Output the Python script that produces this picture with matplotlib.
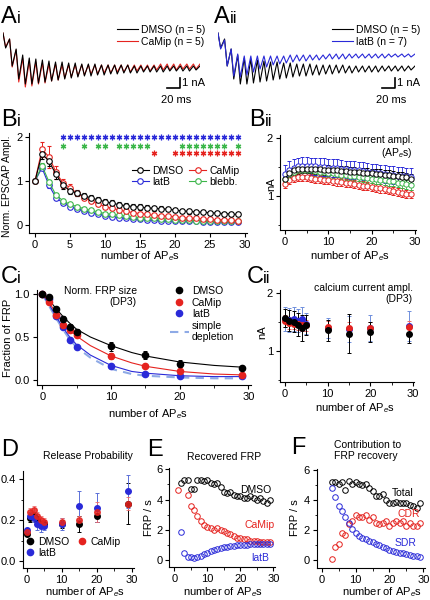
import matplotlib as mpl
import matplotlib.pyplot as plt
from matplotlib.lines import Line2D
import numpy as np

mpl.rcParams.update({
    "font.family": "sans-serif",
    "font.sans-serif": ["Liberation Sans", "DejaVu Sans"],
    "font.size": 8,
    "mathtext.fontset": "custom",
    "mathtext.rm": "Liberation Sans",
    "mathtext.it": "Liberation Sans:italic",
    "axes.linewidth": 0.8,
    "xtick.major.size": 3, "ytick.major.size": 3,
    "xtick.minor.size": 1.8, "ytick.minor.size": 1.8,
    "xtick.major.width": 0.8, "ytick.major.width": 0.8,
    "xtick.major.pad": 2, "ytick.major.pad": 2,
    "xtick.labelsize": 8, "ytick.labelsize": 8,
})

W, H = 430, 600
RED = "#e5231f"
BLUE = "#2a2ad8"
GREEN = "#3cb64a"
LBLUE = "#8eaae6"
PINK = "#ee6a6a"

# ---- A: EPSC trains (per-pulse levels in nA) -------------------------------
PULSE_MS = 10
DMSO_TOP = [0, -0.6, -1.6, -2.2, -2.5, -2.6, -2.7, -2.8, -2.9, -2.9, -3.0, -3.0, -3.1, -3.1, -3.1,
            -3.2, -3.2, -3.2, -3.2, -3.2, -3.3, -3.3, -3.3, -3.3, -3.3, -3.3, -3.3, -3.3, -3.3, -3.3]
DMSO_PEAK = [-1.5, -3.3, -4.6, -5.1, -5.1, -5.0, -4.9, -4.8, -4.7, -4.6, -4.5, -4.4, -4.3, -4.3, -4.2,
             -4.2, -4.1, -4.1, -4.0, -4.0, -4.0, -3.9, -3.9, -3.9, -3.9, -3.8, -3.8, -3.8, -3.8, -3.7]
CAMIP_TOP = [0, -0.6, -1.7, -2.5, -2.8, -2.9, -3.0, -3.1, -3.1, -3.2, -3.2, -3.2, -3.2, -3.2, -3.2,
             -3.2, -3.2, -3.2, -3.2, -3.2, -3.2, -3.2, -3.2, -3.2, -3.1, -3.1, -3.1, -3.1, -3.1, -3.1]
CAMIP_PEAK = [-1.4, -3.4, -4.9, -5.4, -5.3, -5.1, -5.0, -4.8, -4.7, -4.5, -4.4, -4.3, -4.2, -4.1, -4.1,
              -4.0, -4.0, -3.9, -3.9, -3.9, -3.8, -3.8, -3.8, -3.7, -3.7, -3.7, -3.7, -3.6, -3.6, -3.6]
LATB_TOP = [0, -0.7, -1.6, -2.1, -2.3, -2.3, -2.3, -2.3, -2.3, -2.3, -2.3, -2.2, -2.2, -2.2, -2.2,
            -2.2, -2.2, -2.1, -2.1, -2.1, -2.1, -2.1, -2.1, -2.1, -2.1, -2.1, -2.1, -2.1, -2.1, -2.1]
LATB_PEAK = [-1.6, -3.3, -4.3, -4.4, -4.2, -3.9, -3.6, -3.4, -3.2, -3.1, -3.0, -2.9, -2.8, -2.8, -2.7,
             -2.7, -2.6, -2.6, -2.6, -2.6, -2.5, -2.5, -2.5, -2.5, -2.5, -2.5, -2.4, -2.4, -2.4, -2.4]

# ---- Bi: normalized EPSC amplitudes ----------------------------------------
B_X = np.arange(30)
BI_DMSO = [1.0, 1.62, 1.45, 1.15, 0.9, 0.78, 0.72, 0.66, 0.62, 0.57, 0.53, 0.5, 0.46, 0.44, 0.42,
           0.41, 0.39, 0.38, 0.37, 0.36, 0.34, 0.32, 0.31, 0.3, 0.29, 0.28, 0.27, 0.26, 0.25, 0.24]
BI_DMSO_ERR = [0, 0.12, 0.1, 0.1, 0.08, 0.07, 0.07, 0.06, 0.06, 0.06, 0.06, 0.06, 0.06, 0.06, 0.06,
               0.06, 0.06, 0.06, 0.06, 0.05, 0.05, 0.05, 0.05, 0.05, 0.04, 0.04, 0.04, 0.04, 0.04, 0.04]
BI_CAMIP = [1.0, 1.72, 1.55, 1.2, 0.95, 0.85, 0.72, 0.62, 0.55, 0.48, 0.42, 0.38, 0.34, 0.31, 0.28,
            0.26, 0.24, 0.22, 0.21, 0.2, 0.19, 0.17, 0.16, 0.15, 0.14, 0.13, 0.12, 0.12, 0.11, 0.1]
BI_CAMIP_ERR = [0, 0.17, 0.25, 0.15, 0.1, 0.08, 0.06, 0.05, 0.05, 0.04, 0.04, 0.03, 0.03, 0.03, 0.03,
                0.03, 0.03, 0.03, 0.03, 0.03, 0.03, 0.03, 0.03, 0.03, 0.03, 0.03, 0.03, 0.03, 0.03, 0.03]
BI_LATB = [1.0, 1.3, 0.9, 0.62, 0.5, 0.42, 0.36, 0.32, 0.28, 0.25, 0.21, 0.19, 0.17, 0.15, 0.14,
           0.13, 0.12, 0.11, 0.1, 0.1, 0.09, 0.09, 0.08, 0.08, 0.07, 0.07, 0.07, 0.06, 0.06, 0.06]
BI_LATB_ERR = [0, 0.06, 0.05, 0.04, 0.04, 0.03, 0.03, 0.03, 0.02, 0.02, 0.02, 0.02, 0.02, 0.02, 0.02,
               0.02, 0.02, 0.02, 0.02, 0.02, 0.02, 0.02, 0.02, 0.02, 0.02, 0.02, 0.02, 0.02, 0.02, 0.02]
BI_BLEBB = [1.0, 1.35, 0.98, 0.68, 0.55, 0.47, 0.42, 0.37, 0.33, 0.3, 0.26, 0.24, 0.22, 0.2, 0.18,
            0.17, 0.16, 0.15, 0.14, 0.13, 0.12, 0.12, 0.11, 0.1, 0.1, 0.09, 0.09, 0.09, 0.08, 0.08]
BI_BLEBB_ERR = [0, 0.06, 0.05, 0.04, 0.04, 0.03, 0.03, 0.03, 0.03, 0.02, 0.02, 0.02, 0.02, 0.02, 0.02,
                0.02, 0.02, 0.02, 0.02, 0.02, 0.02, 0.02, 0.02, 0.02, 0.02, 0.02, 0.02, 0.02, 0.02, 0.02]
STARS_LATB = list(range(4, 30))
STARS_BLEBB = [4, 7, 9, 10, 12, 13, 14, 15, 16, 21, 22, 23, 24, 25, 26, 27, 29]
STARS_CAMIP = [17] + list(range(20, 30))

# ---- Bii: calcium current during APs (nA) ----------------------------------
BII_DMSO = [1.30, 1.40, 1.44, 1.46, 1.47, 1.47, 1.47, 1.46, 1.46, 1.45, 1.45, 1.44, 1.44, 1.43, 1.43,
            1.42, 1.42, 1.41, 1.40, 1.40, 1.39, 1.38, 1.38, 1.37, 1.36, 1.35, 1.34, 1.33, 1.32, 1.30]
BII_LATB = [1.38, 1.45, 1.49, 1.51, 1.52, 1.52, 1.51, 1.51, 1.50, 1.50, 1.49, 1.48, 1.48, 1.47, 1.46,
            1.45, 1.45, 1.44, 1.43, 1.42, 1.41, 1.40, 1.39, 1.38, 1.37, 1.36, 1.35, 1.35, 1.34, 1.33]
BII_BLEBB = [1.30, 1.38, 1.42, 1.44, 1.45, 1.45, 1.44, 1.43, 1.42, 1.41, 1.40, 1.39, 1.38, 1.37, 1.36,
             1.35, 1.34, 1.33, 1.32, 1.31, 1.30, 1.29, 1.28, 1.27, 1.26, 1.25, 1.23, 1.22, 1.20, 1.19]
BII_CAMIP = [1.20, 1.28, 1.31, 1.33, 1.33, 1.32, 1.31, 1.30, 1.29, 1.28, 1.27, 1.26, 1.25, 1.24, 1.23,
             1.22, 1.20, 1.19, 1.18, 1.17, 1.16, 1.14, 1.13, 1.12, 1.10, 1.09, 1.07, 1.06, 1.04, 1.03]
BII_ERR = {"DMSO": 0.08, "CaMip": 0.07, "latB": 0.15, "blebb.": 0.08}

# ---- C / D: DP3 measurements ----------------------------------------------
DP_X = [0, 1, 2, 3, 4, 5, 10, 15, 20, 29]
CI_DMSO = [1.0, 0.97, 0.82, 0.71, 0.62, 0.56, 0.39, 0.29, 0.19, 0.14]
CI_DMSO_ERR = [0, 0.02, 0.03, 0.03, 0.03, 0.03, 0.05, 0.05, 0.04, 0.02]
CI_CAMIP = [1.0, 0.91, 0.76, 0.64, 0.58, 0.52, 0.28, 0.16, 0.10, 0.06]
CI_CAMIP_ERR = [0, 0.01, 0.02, 0.02, 0.02, 0.02, 0.03, 0.02, 0.01, 0.01]
CI_LATB = [1.0, 0.94, 0.74, 0.62, 0.47, 0.38, 0.16, 0.07, 0.05, 0.05]
CI_LATB_ERR = [0, 0.01, 0.02, 0.02, 0.02, 0.02, 0.02, 0.01, 0.01, 0.01]
FIT_X = [0, 1, 2, 3, 4, 5, 7, 10, 13, 15, 20, 25, 29]
FIT_DMSO = [1.0, 0.93, 0.83, 0.74, 0.66, 0.59, 0.50, 0.40, 0.32, 0.28, 0.21, 0.17, 0.15]
FIT_CAMIP = [1.0, 0.90, 0.78, 0.67, 0.58, 0.51, 0.40, 0.28, 0.20, 0.16, 0.10, 0.07, 0.06]
FIT_LATB = [1.0, 0.88, 0.74, 0.61, 0.50, 0.41, 0.29, 0.17, 0.10, 0.08, 0.05, 0.04, 0.04]
FIT_SIMPLE = [1.0, 0.86, 0.72, 0.59, 0.47, 0.38, 0.26, 0.13, 0.07, 0.05, 0.03, 0.02, 0.02]

CII_DMSO = [1.57, 1.52, 1.50, 1.45, 1.40, 1.45, 1.36, 1.30, 1.33, 1.30]
CII_DMSO_ERR = [0.15, 0.18, 0.18, 0.2, 0.22, 0.17, 0.18, 0.33, 0.17, 0.16]
CII_CAMIP = [1.52, 1.48, 1.47, 1.46, 1.45, 1.44, 1.42, 1.40, 1.40, 1.41]
CII_CAMIP_ERR = [0.1, 0.1, 0.1, 0.1, 0.1, 0.1, 0.1, 0.1, 0.1, 0.1]
CII_LATB = [1.55, 1.53, 1.55, 1.52, 1.55, 1.47, 1.40, 1.38, 1.40, 1.43]
CII_LATB_ERR = [0.2, 0.2, 0.2, 0.2, 0.2, 0.18, 0.17, 0.22, 0.22, 0.25]

D_DMSO = [0.13, 0.21, 0.22, 0.20, 0.18, 0.18, 0.18, 0.18, 0.22, 0.28]
D_DMSO_ERR = [0.01, 0.02, 0.02, 0.02, 0.02, 0.02, 0.02, 0.04, 0.03, 0.1]
D_CAMIP = [0.14, 0.24, 0.25, 0.22, 0.20, 0.19, 0.19, 0.20, 0.24, 0.28]
D_CAMIP_ERR = [0.01, 0.02, 0.02, 0.02, 0.02, 0.02, 0.02, 0.02, 0.05, 0.03]
D_LATB = [0.15, 0.22, 0.21, 0.18, 0.17, 0.17, 0.18, 0.27, 0.26, 0.34]
D_LATB_ERR = [0.01, 0.02, 0.02, 0.03, 0.03, 0.02, 0.03, 0.07, 0.07, 0.08]

# ---- E / F: recovery rates (FRP / s) ---------------------------------------
E_DMSO_X = list(range(2, 30))
E_DMSO = [5.1, 5.3, 5.3, 4.7, 4.7, 5.3, 5.3, 5.2, 5.3, 5.1, 5.0, 5.1, 4.8, 4.5, 4.4, 4.5, 4.3, 4.2,
          4.2, 4.1, 4.1, 4.2, 4.1, 4.0, 4.1, 3.9, 3.8, 4.0]
E_CAMIP_X = [1] + list(range(4, 30))
E_CAMIP = [4.6, 4.3, 3.6, 3.3, 2.9, 2.6, 2.35, 2.2, 2.1, 2.0, 2.1, 2.0, 1.9, 1.8, 1.7, 1.6, 1.5, 1.5,
           1.4, 1.4, 1.3, 1.3, 1.3, 1.2, 1.2, 1.2, 1.2]
E_LATB_X = list(range(2, 30))
E_LATB = [1.85, 0.45, 0.25, 0.2, 0.15, 0.2, 0.3, 0.4, 0.5, 0.6, 0.7, 0.75, 0.8, 0.85, 0.9, 0.95, 0.95,
          1.0, 1.0, 1.0, 1.0, 1.05, 1.05, 1.05, 1.1, 1.1, 1.1, 1.1]
F_X = list(range(3, 30))
F_TOTAL = [5.2, 5.2, 5.1, 5.2, 4.7, 5.3, 5.1, 5.2, 5.1, 5.0, 5.1, 4.8, 4.6, 4.3, 4.3, 4.4, 4.0, 3.8,
           3.8, 3.9, 3.8, 3.8, 3.8, 3.7, 3.6, 3.5, 3.8]
F_CDR = [0.1, 0.9, 1.1, 1.8, 1.7, 2.4, 2.6, 3.0, 2.9, 2.9, 3.0, 2.7, 2.9, 2.5, 2.4, 2.5, 2.6, 2.3,
         2.5, 2.6, 2.5, 2.6, 2.3, 2.5, 2.3, 2.3, 2.5]
F_SDR = [4.8, 4.2, 3.6, 3.3, 2.9, 2.5, 2.1, 1.8, 1.6, 1.5, 1.4, 1.3, 1.2, 1.1, 1.0, 0.9, 0.8, 0.7,
         0.6, 0.55, 0.5, 0.45, 0.4, 0.35, 0.3, 0.25, 0.2]

XLABEL = "number of AP$_e$s"


def px_axes(fig, left, top, right, bottom):
    return fig.add_axes([left / W, 1 - bottom / H, (right - left) / W, (bottom - top) / H])


def ftext(fig, x, y, s, **kw):
    return fig.text(x / W, 1 - y / H, s, **kw)


def panel(fig, x, y, big, small=""):
    ftext(fig, x, y, big, fontsize=17, va="baseline")
    if small:
        ftext(fig, x + 16, y, small, fontsize=12, va="baseline")


def style(ax, xlim, ylim, xticks, yticks, xminor=None, yminor=None):
    ax.set_xlim(*xlim)
    ax.set_ylim(*ylim)
    ax.set_xticks(xticks)
    ax.set_yticks(yticks)
    if xminor is not None:
        ax.set_xticks(xminor, minor=True)
    if yminor is not None:
        ax.set_yticks(yminor, minor=True)
    for s in ["top", "right"]:
        ax.spines[s].set_visible(False)


def trace_xy(tops, peaks):
    t, v = [], []
    for i, (a, b) in enumerate(zip(tops, peaks)):
        t += [i * PULSE_MS, i * PULSE_MS + 4]
        v += [a, b]
    t.append(len(tops) * PULSE_MS)
    v.append(tops[-1])
    return t, v


def trace_panel(fig, left, series, legend_order):
    # series: list of (tops, peaks, colour, label), drawn in list order
    ax = px_axes(fig, left + 3, 25, left + 200, 105)
    for (tops, peaks, c, _) in series:
        t, v = trace_xy(tops, peaks)
        ax.plot(t, v, color=c, lw=0.8)
    ax.set_xlim(0, 300)
    ax.set_ylim(-7.2, 0.8)
    ax.axis("off")
    ax.plot([250, 270, 270], [-5.5, -5.5, -4.5], color="k", lw=1.2)
    ax.text(273, -5.0, "1 nA", fontsize=8, va="center", ha="left")
    ax.text(263, -6.2, "20 ms", fontsize=8, va="top", ha="center")
    handles = [Line2D([], [], color=series[i][2], lw=0.8) for i in legend_order]
    labels = [series[i][3] for i in legend_order]
    ax.legend(handles, labels, loc="upper right", bbox_to_anchor=((left + 205) / W, 1 - 25 / H),
              bbox_transform=fig.transFigure, frameon=False, fontsize=7.5, handlelength=2.0,
              handletextpad=0.3, labelspacing=0.15, borderpad=0, borderaxespad=0)


fig = plt.figure(figsize=(W / 100, H / 100), dpi=100)

# ---- A ----------------------------------------------------------------------
trace_panel(fig, 0, [(CAMIP_TOP, CAMIP_PEAK, RED, "CaMip (n = 5)"),
                     (DMSO_TOP, DMSO_PEAK, "k", "DMSO (n = 5)")], [1, 0])
trace_panel(fig, 215, [(DMSO_TOP, DMSO_PEAK, "k", "DMSO (n = 5)"),
                       (LATB_TOP, LATB_PEAK, BLUE, "latB (n = 7)")], [0, 1])
panel(fig, 1, 23, "A", "i")
panel(fig, 214, 23, "A", "ii")

# ---- Bi ---------------------------------------------------------------------
ax = px_axes(fig, 29.4, 133.5, 247.1, 232.9)
eb = dict(fmt="-o", ms=4, mfc="white", mew=0.8, lw=0.8, capsize=1.5, elinewidth=0.7, capthick=0.7)
ax.errorbar(B_X, BI_LATB, yerr=BI_LATB_ERR, color=BLUE, **eb)
ax.errorbar(B_X, BI_BLEBB, yerr=BI_BLEBB_ERR, color=GREEN, **eb)
ax.errorbar(B_X, BI_CAMIP, yerr=BI_CAMIP_ERR, color=RED, **eb)
ax.errorbar(B_X, BI_DMSO, yerr=BI_DMSO_ERR, color="k", **eb)
star = dict(ls="none", marker=(6, 2, 0), ms=4, mew=0.9)
ax.plot(STARS_LATB, [2.0] * len(STARS_LATB), color=BLUE, **star)
ax.plot(STARS_BLEBB, [1.8] * len(STARS_BLEBB), color=GREEN, **star)
ax.plot(STARS_CAMIP, [1.63] * len(STARS_CAMIP), color=RED, **star)
style(ax, (-0.8, 30.3), (-0.18, 2.08), range(0, 31, 5), [0, 1, 2])
hd = [Line2D([], [], color=c, marker="o", ms=4, mfc="white", mew=0.8, lw=0.8)
      for c in ["k", BLUE, RED, GREEN]]
ax.legend(hd, ["DMSO", "latB", "CaMip", "blebb."], ncol=2, loc="upper left",
          bbox_to_anchor=(132 / W, 1 - 166 / H), bbox_transform=fig.transFigure, frameon=False,
          fontsize=7.5, handlelength=1.6, handletextpad=0.3, labelspacing=0.1, columnspacing=0.6,
          borderpad=0, borderaxespad=0)
ftext(fig, 140, 256, XLABEL, ha="center", va="center")
ftext(fig, 7, 186, "Norm. EPSCAP Ampl.", rotation=90, ha="center", va="center", fontsize=7.5)
panel(fig, 1, 126, "B", "i")

# ---- Bii --------------------------------------------------------------------
ax = px_axes(fig, 279.8, 135.1, 416.2, 230.2)
eb2 = dict(fmt="-o", ms=3.8, mfc="white", mew=0.7, lw=0.6, capsize=1.5, elinewidth=0.6, capthick=0.6)
ax.errorbar(B_X, BII_CAMIP, yerr=BII_ERR["CaMip"], color=RED, **eb2)
ax.errorbar(B_X, BII_BLEBB, yerr=BII_ERR["blebb."], color=GREEN, **eb2)
ax.errorbar(B_X, BII_LATB, yerr=BII_ERR["latB"], color=BLUE, **eb2)
ax.errorbar(B_X, BII_DMSO, yerr=BII_ERR["DMSO"], color="k", **eb2)
style(ax, (-1.2, 30.3), (0.41, 2.05), [0, 10, 20, 30], [1, 2], xminor=[5, 15, 25], yminor=[0.5, 1.5])
ftext(fig, 413, 135, "calcium current ampl.\n(AP$_e$s)", ha="right", va="top", fontsize=7.5,
      multialignment="right", linespacing=1.15)
ftext(fig, 350, 256, XLABEL, ha="center", va="center")
ftext(fig, 271, 184, "nA", rotation=90, ha="center", va="center")
panel(fig, 249, 126, "B", "ii")

# ---- Ci ---------------------------------------------------------------------
ax = px_axes(fig, 36.8, 289.7, 250.5, 385.2)
ax.plot(FIT_X, FIT_SIMPLE, color=LBLUE, lw=1.5, dashes=(4, 3))
ax.plot(FIT_X, FIT_LATB, color=BLUE, lw=0.8)
ax.plot(FIT_X, FIT_CAMIP, color=RED, lw=0.8)
ax.plot(FIT_X, FIT_DMSO, color="k", lw=0.8)
ebf = dict(fmt="o", ms=4.5, capsize=1.5, elinewidth=0.7, capthick=0.7)
ax.errorbar(DP_X, CI_LATB, yerr=CI_LATB_ERR, color=BLUE, **ebf)
ax.errorbar(DP_X, CI_CAMIP, yerr=CI_CAMIP_ERR, color=RED, **ebf)
ax.errorbar(DP_X, CI_DMSO, yerr=CI_DMSO_ERR, color="k", **ebf)
style(ax, (-0.8, 30.3), (-0.06, 1.05), [0, 10, 20, 30], [0.0, 0.5, 1.0], xminor=[5, 15, 25])
ax.set_yticklabels(["0.0", "0.5", "1.0"])
hd = [Line2D([], [], color=c, marker="o", ms=4.5, lw=0) for c in ["k", RED, BLUE]]
hd.append(Line2D([], [], color=LBLUE, lw=1.5, dashes=(4, 3)))
ax.legend(hd, ["DMSO", "CaMip", "latB", "simple\ndepletion"], loc="upper left",
          bbox_to_anchor=(170 / W, 1 - 286 / H), bbox_transform=fig.transFigure, frameon=False,
          fontsize=7.5, handlelength=1.8, handletextpad=0.3, labelspacing=0.15, borderpad=0,
          borderaxespad=0)
ftext(fig, 137, 286, "Norm. FRP size\n(DP3)", ha="right", va="top", fontsize=7.5,
      multialignment="right", linespacing=1.15)
ftext(fig, 148, 414, XLABEL, ha="center", va="center")
ftext(fig, 8, 338, "Fraction of FRP", rotation=90, ha="center", va="center")
panel(fig, 1, 283, "C", "i")

# ---- Cii --------------------------------------------------------------------
ax = px_axes(fig, 279.9, 289.8, 414.4, 381.9)
ebc = dict(fmt="o", ms=4, capsize=1.5, elinewidth=0.7, capthick=0.7)
ax.errorbar(DP_X, CII_LATB, yerr=CII_LATB_ERR, color=BLUE, ecolor="#6f8fdc", **ebc)
ax.errorbar(DP_X, CII_CAMIP, yerr=CII_CAMIP_ERR, color=RED, ecolor=PINK, **ebc)
ax.errorbar(DP_X, CII_DMSO, yerr=CII_DMSO_ERR, color="k", **ebc)
style(ax, (-1.2, 30.3), (0.47, 2.05), [0, 10, 20, 30], [1, 2], xminor=[5, 15, 25], yminor=[0.5, 1.5])
ftext(fig, 413, 283, "calcium current ampl.\n(DP3)", ha="right", va="top", fontsize=7.5,
      multialignment="right", linespacing=1.15)
ftext(fig, 355, 408, XLABEL, ha="center", va="center")
ftext(fig, 262, 332, "nA", rotation=90, ha="center", va="center")
panel(fig, 247, 283, "C", "ii")

# ---- D ----------------------------------------------------------------------
ax = px_axes(fig, 22.5, 470.8, 133.5, 568.2)
ebd = dict(fmt="o", ms=4, capsize=1.5, elinewidth=0.7, capthick=0.7)
ax.errorbar(DP_X, D_DMSO, yerr=D_DMSO_ERR, color="k", **ebd)
ax.errorbar(DP_X, D_LATB, yerr=D_LATB_ERR, color=BLUE, ecolor="#5b6fd8", **ebd)
ax.errorbar(DP_X, D_CAMIP, yerr=D_CAMIP_ERR, color=RED, ecolor=PINK, alpha=0.85, **ebd)
style(ax, (-1.2, 30.5), (-0.035, 0.44), [0, 10, 20, 30], [0.0, 0.2, 0.4], xminor=[5, 15, 25],
      yminor=[0.1, 0.3])
ax.set_yticklabels(["0.0", "0.2", "0.4"])
hd = [Line2D([], [], color=c, marker="o", ms=4.5, lw=0) for c in ["k", BLUE, RED]]
ax.legend(hd, ["DMSO", "latB", "CaMip"], ncol=2, loc="upper left",
          bbox_to_anchor=(26 / W, 1 - 537 / H), bbox_transform=fig.transFigure, frameon=False,
          fontsize=7.5, handlelength=0.8, handletextpad=0.4, labelspacing=0.1, columnspacing=0.8,
          borderpad=0, borderaxespad=0)
ftext(fig, 88, 456, "Release Probability", ha="center", va="center", fontsize=7.5)
ftext(fig, 85, 592, XLABEL, ha="center", va="center")
panel(fig, 1, 456, "D")

# ---- E ----------------------------------------------------------------------
ax = px_axes(fig, 169.4, 467.6, 275, 566.7)
oc = dict(ls="none", marker="o", ms=4, mfc="none", mew=0.7)
ax.plot(E_DMSO_X, E_DMSO, color="k", **oc)
ax.plot(E_CAMIP_X, E_CAMIP, color=RED, **oc)
ax.plot(E_LATB_X, E_LATB, color=BLUE, **oc)
style(ax, (-1.5, 30.5), (-0.42, 6.1), [0, 10, 20, 30], [0, 2, 4, 6], xminor=[5, 15, 25],
      yminor=[1, 3, 5])
ax.text(20, 4.6, "DMSO", color="k", fontsize=7.5, va="center")
ax.text(21.4, 2.3, "CaMip", color=RED, fontsize=7.5, va="center")
ax.text(23.4, 0.15, "latB", color=BLUE, fontsize=7.5, va="center")
ftext(fig, 224, 457, "Recovered FRP", ha="center", va="center", fontsize=7.5)
ftext(fig, 223, 592, XLABEL, ha="center", va="center")
ftext(fig, 149, 518, "FRP / s", rotation=90, ha="center", va="center")
panel(fig, 147, 456, "E")

# ---- F ----------------------------------------------------------------------
ax = px_axes(fig, 316.6, 468.5, 425.1, 568.3)
ax.plot(F_X, F_TOTAL, color="k", **oc)
ax.plot(F_X, F_CDR, color=RED, **oc)
ax.plot(F_X, F_SDR, color=BLUE, **oc)
style(ax, (-1.5, 30.5), (-0.55, 6.1), [0, 10, 20, 30], [0, 2, 4, 6], xminor=[5, 15, 25],
      yminor=[1, 3, 5])
ax.text(20.7, 4.5, "Total", color="k", fontsize=7.5, va="center")
ax.text(22.5, 3.07, "CDR", color=RED, fontsize=7.5, va="center")
ax.text(21.6, 1.13, "SDR", color=BLUE, fontsize=7.5, va="center")
ftext(fig, 334, 440, "Contribution to\nFRP recovery", ha="left", va="top", fontsize=7.5,
      linespacing=1.15)
ftext(fig, 382, 592, XLABEL, ha="center", va="center")
ftext(fig, 295, 518, "FRP / s", rotation=90, ha="center", va="center")
panel(fig, 291, 454, "F")

fig.savefig("out.png", dpi=100)
